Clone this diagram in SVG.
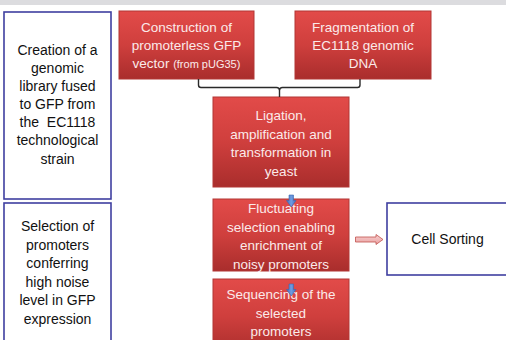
<svg xmlns="http://www.w3.org/2000/svg" width="506" height="340" viewBox="0 0 506 340">
<defs>
<linearGradient id="red" x1="0" y1="0" x2="0" y2="1">
<stop offset="0" stop-color="#e24b49"/>
<stop offset="0.5" stop-color="#cf3f3d"/>
<stop offset="1" stop-color="#a92d2c"/>
</linearGradient>
<linearGradient id="blue" x1="0" y1="0" x2="1" y2="0">
<stop offset="0" stop-color="#3f6fc0"/>
<stop offset="0.5" stop-color="#6f9be0"/>
<stop offset="1" stop-color="#3f6fc0"/>
</linearGradient>
<linearGradient id="pink" x1="0" y1="0" x2="0" y2="1">
<stop offset="0" stop-color="#f8d0d0"/>
<stop offset="1" stop-color="#e9a0a0"/>
</linearGradient>
</defs>
<style>
.red{fill:url(#red);stroke:#b23634;stroke-width:1}
.side{fill:#fff;stroke:#3f3fa0;stroke-width:1.6}
.wt{font-family:"Liberation Sans",Arial,sans-serif;font-size:13.5px;fill:#fbeaea;text-anchor:middle}
.bt{font-family:"Liberation Sans",Arial,sans-serif;font-size:14px;fill:#111;text-anchor:middle}
.sm{font-size:11px}
.conn{fill:none;stroke:#2a2a2a;stroke-width:1.4}
</style>
<rect x="0" y="0" width="506" height="340" fill="#fff"/>
<rect x="0" y="0" width="506" height="5" fill="#dcdcdf"/>

<g id="creation">
<rect class="side" x="4" y="12" width="107" height="187"/>
<text class="bt" x="57.5" y="55">Creation of a</text>
<text class="bt" x="57.5" y="73">genomic</text>
<text class="bt" x="57.5" y="91">library fused</text>
<text class="bt" x="57.5" y="109">to GFP from</text>
<text class="bt" x="57.5" y="127" xml:space="preserve">the  EC1118</text>
<text class="bt" x="57.5" y="145">technological</text>
<text class="bt" x="57.5" y="164">strain</text>
</g>

<g id="selection">
<rect class="side" x="4" y="203" width="107" height="150"/>
<text class="bt" x="57.5" y="231">Selection of</text>
<text class="bt" x="57.5" y="249.5">promoters</text>
<text class="bt" x="57.5" y="268">conferring</text>
<text class="bt" x="57.5" y="286.5">high noise</text>
<text class="bt" x="57.5" y="305">level in GFP</text>
<text class="bt" x="57.5" y="323.5">expression</text>
</g>

<g id="construction">
<rect class="red" x="119" y="11" width="135" height="68"/>
<text class="wt" x="186.5" y="32">Construction of</text>
<text class="wt" x="186.5" y="50">promoterless GFP</text>
<text class="wt" x="186.5" y="68">vector <tspan class="sm">(from pUG35)</tspan></text>
</g>

<g id="fragmentation">
<rect class="red" x="295" y="11" width="136" height="68"/>
<text class="wt" x="363" y="32">Fragmentation of</text>
<text class="wt" x="363" y="50">EC1118 genomic</text>
<text class="wt" x="363" y="68">DNA</text>
</g>

<g id="ligation">
<rect class="red" x="213" y="97" width="136" height="90"/>
<text class="wt" x="281" y="120">Ligation,</text>
<text class="wt" x="281" y="138.5">amplification and</text>
<text class="wt" x="281" y="157">transformation in</text>
<text class="wt" x="281" y="175.5">yeast</text>
</g>

<g id="fluctuating">
<rect class="red" x="213" y="199" width="136" height="72"/>
<text class="wt" x="281" y="213">Fluctuating</text>
<text class="wt" x="281" y="232">selection enabling</text>
<text class="wt" x="281" y="250">enrichment of</text>
<text class="wt" x="281" y="268.5">noisy promoters</text>
</g>

<g id="sequencing">
<rect class="red" x="213" y="279" width="136" height="75"/>
<text class="wt" x="281" y="299">Sequencing of the</text>
<text class="wt" x="281" y="317.5">selected</text>
<text class="wt" x="281" y="336">promoters</text>
</g>

<g id="cellsorting">
<rect class="side" x="387" y="203" width="125" height="72"/>
<text class="bt" x="447.5" y="244">Cell Sorting</text>
</g>

<g id="connectors">
<path class="conn" d="M198.5,79 V85 Q198.5,87.5 201,87.5 H276.5 Q279.5,87.5 279.5,90.5 V97 M279.5,90.5 Q279.5,87.5 282.5,87.5 H357.5 Q360,87.5 360,85 V79"/>
<path d="M289,195 H293.5 V200.5 H296 L291.25,207 L286.5,200.5 H289 Z" fill="url(#blue)" stroke="#3a66b0" stroke-width="0.6"/>
<path d="M289,284 H293.5 V289.5 H296 L291.25,296 L286.5,289.5 H289 Z" fill="url(#blue)" stroke="#3a66b0" stroke-width="0.6"/>
<path d="M355.5,237 H376 V234.5 L383,239.5 L376,244.5 V242 H355.5 Z" fill="url(#pink)" stroke="#c0504d" stroke-width="0.8"/>
</g>
</svg>
